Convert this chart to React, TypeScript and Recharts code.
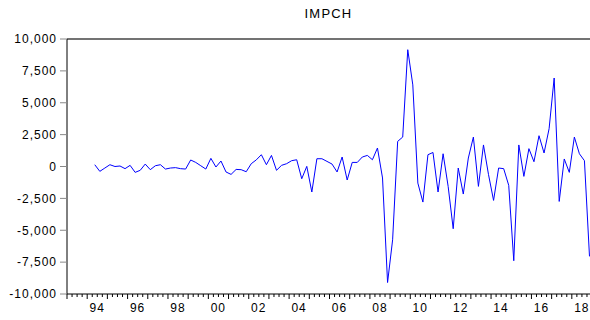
import { Line, LineChart, ReferenceLine, XAxis, YAxis } from "recharts";

// quarterly observations, first one is 1994Q2
const startYear = 1994;
const startQuarter = 2;

const impch = [
  140, -380, -120, 140, 0, 40, -170, 90, -460, -300,
  190, -250, 60, 140, -200, -120, -90, -170, -200, 510,
  320, 60, -200, 640, -40, 430, -430, -620, -230, -250,
  -410, 220, 520, 925, 140, 870, -300, 90, 220, 455,
  530, -960, 10, -2000, 610, 610, 400, 190, -430, 745,
  -1060, 320, 320, 745, 870, 530, 1450, -900, -9100, -5750,
  1970, 2310, 9160, 6400, -1300, -2790, 925, 1100, -2000, 1000,
  -1560, -4880, -120, -2160, 665, 2310, -1560, 1690, -640, -2660,
  -120, -170, -1480, -7390, 1690, -775, 1400, 375, 2415, 1060,
  2965, 6940, -2740, 590, -460, 2310, 1000, 455, -7050,
];

const yTicks = [-10000, -7500, -5000, -2500, 0, 2500, 5000, 7500, 10000];
const labelYears = [1994, 1996, 1998, 2000, 2002, 2004, 2006, 2008, 2010, 2012, 2014, 2016, 2018];
const firstTickYear = 1993;
const lastTickYear = 2018;

// each point sits at the middle of its quarter
const data = impch.map((v, i) => {
  const q = startQuarter - 1 + i;
  return { t: startYear + q / 4 + 0.125, value: v };
});

const quarterTicks: number[] = [];
for (let y = firstTickYear; y <= lastTickYear; y++) {
  for (let q = 0; q < 4; q++) quarterTicks.push(y + q / 4);
}

const font = { fontFamily: "'Liberation Sans', Arial, sans-serif", fontSize: 12, letterSpacing: 1, fill: "#000" };
const fmt = (v: number) => v.toLocaleString("en-US");

function QuarterTick(props: any) {
  const { x, y, payload } = props;
  const v = payload.value as number;
  const isYear = Math.abs(v - Math.round(v)) < 1e-6;
  const yr = Math.round(v);
  const showLabel = isYear && labelYears.includes(yr);
  return (
    <g>
      <line x1={x} y1={y} x2={x} y2={y + (isYear ? 5 : 3)} stroke="#000" strokeWidth={1} />
      {showLabel && (
        <text x={x + 10} y={y + 18} textAnchor="middle" {...font}>
          {String(yr).slice(2)}
        </text>
      )}
    </g>
  );
}

export default function App() {
  return (
    <div style={{ position: "absolute", left: 0, top: 0, width: 590, height: 320, background: "#fff" }}>
      <div
        style={{
          position: "absolute",
          left: 67,
          width: 523,
          top: 6,
          textAlign: "center",
          fontFamily: "'Liberation Sans', Arial, sans-serif",
          fontSize: 13,
          letterSpacing: 1.2,
          color: "#000",
        }}
      >
        IMPCH
      </div>
      <LineChart width={590} height={320} data={data} margin={{ top: 39, right: 0, bottom: 0, left: 0 }}>
        <XAxis
          dataKey="t"
          type="number"
          domain={[1993, 2018.9]}
          allowDataOverflow
          ticks={quarterTicks}
          interval={0}
          tickLine={false}
          tickSize={0}
          tickMargin={0}
          tick={<QuarterTick />}
          axisLine={{ stroke: "#000" }}
          height={26}
        />
        <YAxis
          type="number"
          domain={[-10000, 10000]}
          ticks={yTicks}
          interval={0}
          tickFormatter={fmt}
          tick={font}
          tickSize={7}
          tickMargin={3}
          tickLine={{ stroke: "#888" }}
          axisLine={{ stroke: "#000" }}
          width={67}
        />
        <ReferenceLine y={10000} stroke="#444" strokeWidth={1.5} />
        <Line
          type="linear"
          dataKey="value"
          stroke="#0000ff"
          strokeWidth={1}
          dot={false}
          isAnimationActive={false}
        />
      </LineChart>
    </div>
  );
}
